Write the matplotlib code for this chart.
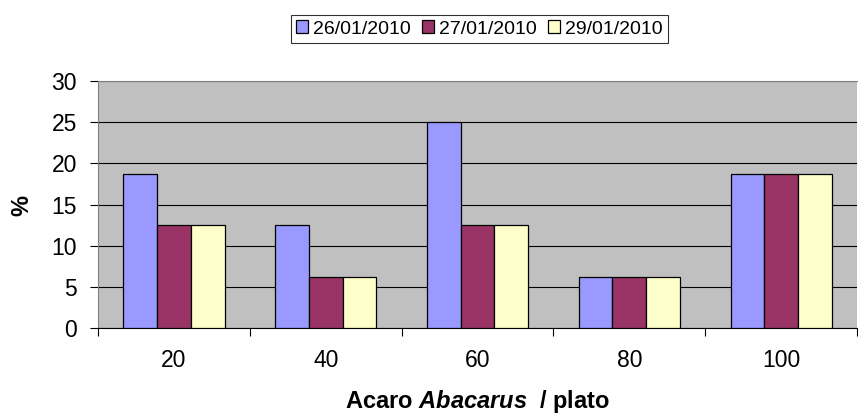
import matplotlib
matplotlib.use("Agg")
import matplotlib.pyplot as plt
import numpy as np

categories = ["20", "40", "60", "80", "100"]
series_names = ["26/01/2010", "27/01/2010", "29/01/2010"]
s1 = [18.75, 12.5, 25.0, 6.25, 18.75]
s2 = [12.5, 6.25, 12.5, 6.25, 18.75]
s3 = [12.5, 6.25, 12.5, 6.25, 18.75]
colors = ["#9999FF", "#993366", "#FFFFCC"]
yticks = [0, 5, 10, 15, 20, 25, 30]

plt.rcParams['font.family'] = ['Liberation Sans', 'DejaVu Sans']
plt.rcParams['mathtext.fontset'] = 'custom'
plt.rcParams['mathtext.rm'] = 'Liberation Sans:bold'
plt.rcParams['mathtext.bf'] = 'Liberation Sans:bold'
plt.rcParams['mathtext.it'] = 'Liberation Sans:italic:bold'
plt.rcParams['mathtext.bfit'] = 'Liberation Sans:italic:bold'

W, H = 858, 418
fig = plt.figure(figsize=(W/100, H/100), dpi=100)
L, R, T, B = 98, 857, 81, 328
ax = fig.add_axes([L/W, 1 - B/H, (R-L)/W, (B-T)/H])
ax.set_facecolor("#C0C0C0")

x = np.arange(len(categories))
bw = 1/4.5
for i, (vals, name, c) in enumerate(zip([s1, s2, s3], series_names, colors)):
    ax.bar(x + (i-1)*bw, vals, bw, color=c, edgecolor="black", linewidth=0.9,
           label=name, zorder=3)

ax.set_xlim(-0.5, len(categories)-0.5)
ax.set_ylim(0, 30)
ax.set_yticks(yticks)
ax.yaxis.grid(True, color="black", linewidth=0.8, zorder=1)
ax.set_axisbelow(True)
ax.tick_params(axis='y', direction='out', length=5.8, width=0.8, pad=9.4, labelsize=16.5, color='black')
ax.set_xticks(x)
ax.set_xticklabels(categories)
ax.set_xticks(np.arange(len(categories)+1) - 0.5, minor=True)
ax.tick_params(axis='x', which='major', length=0, pad=15, labelsize=16.5)
ax.tick_params(axis='x', which='minor', direction='out', length=5.5, width=0.8, color='black')

ax.spines['top'].set_color('#808080')
ax.spines['right'].set_visible(False)
ax.spines['left'].set_color('#808080')
ax.spines['bottom'].set_color('black')
for s in ax.spines.values():
    s.set_linewidth(0.8)

fig.text(22/W, 1 - 206/H, "%", rotation=90, ha='center', va='center',
         fontsize=17, fontweight='bold')
ax.set_xlabel(r"Acaro $\mathbfit{Abacarus}$  / plato", fontsize=17, fontweight='bold')
ax.xaxis.set_label_coords(0.5, (B - 388)/(B-T))

leg = ax.legend(loc='center', bbox_to_anchor=(((291+668)/2 - L)/(R-L), (B-29)/(B-T)),
                ncol=3, frameon=True, fancybox=False, fontsize=14,
                handlelength=0.6, handleheight=0.6, handletextpad=0.25, columnspacing=0.6,
                borderpad=0.3, borderaxespad=0)
leg.get_frame().set_edgecolor('black')
leg.get_frame().set_linewidth(0.8)

fig.savefig("out.png", dpi=100, facecolor="white")
